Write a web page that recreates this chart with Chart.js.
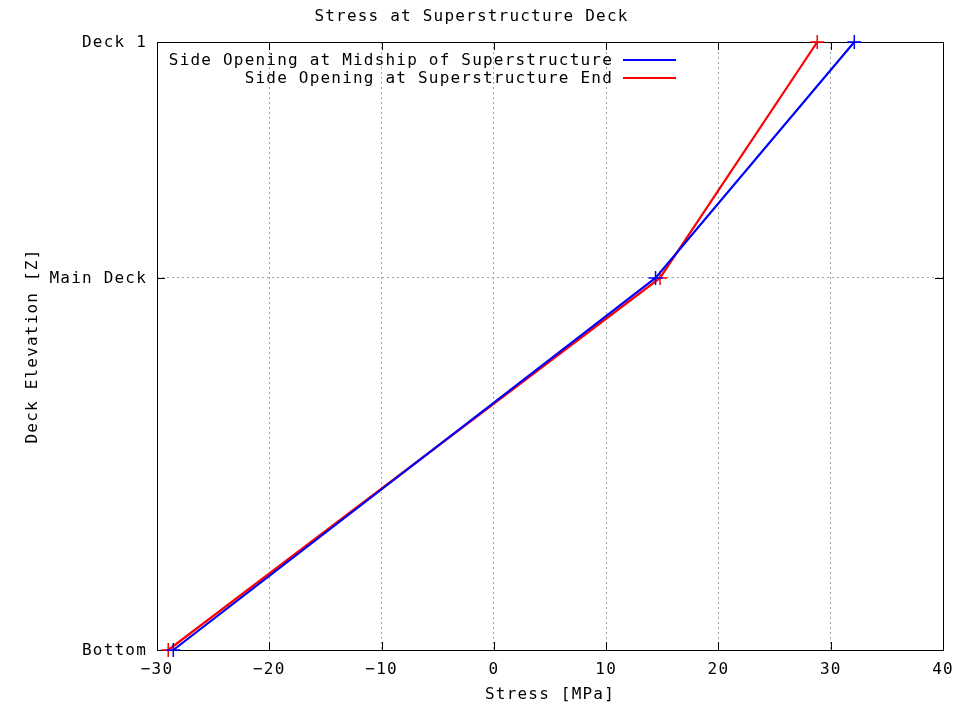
<!DOCTYPE html>
<html>
<head>
<meta charset="utf-8">
<title>Stress at Superstructure Deck</title>
<script src="https://cdn.jsdelivr.net/npm/chart.js@4.4.1/dist/chart.umd.min.js"></script>
<style>
  html, body { margin: 0; padding: 0; background: #fff; }
  #wrap { width: 968px; height: 704px; }
</style>
</head>
<body>
<div id="wrap"><canvas id="chart" width="968" height="704"></canvas></div>
<script>
// deck levels (elevation Z) and their names
const deckNames = ["Bottom", "Main Deck", "Deck 1"];
const deckZ = [0, 15.3, 25];

// stress at each deck [MPa]
const midshipStress = [-28.55, 14.4, 32.1];
const endStress = [-29.0, 14.8, 28.8];

const stressTicks = [-30, -20, -10, 0, 10, 20, 30, 40];

const FONT = { family: "'DejaVu Sans Mono', 'Liberation Mono', monospace", size: 16 };

const toPoints = (xs) => xs.map((x, i) => ({ x: x, y: deckZ[i] }));

// no grid line on the frame itself
const gridColor = (ctx) => {
  const v = ctx.tick ? ctx.tick.value : null;
  if (v === -30 || v === 40 || v === 0 && ctx.scale.axis === "y" || v === 25) return "rgba(0,0,0,0)";
  return "#a0a0a0";
};

// gnuplot style: black frame with inward ticks on all four sides
const framePlugin = {
  id: "frame",
  beforeDraw(chart) {
    chart.ctx.letterSpacing = "1.2px";
  },
  beforeDatasetsDraw(chart) {
    const { ctx, chartArea: a, scales } = chart;
    ctx.save();
    ctx.strokeStyle = "#000";
    ctx.lineWidth = 1;
    ctx.strokeRect(a.left + 0.5, a.top + 0.5, a.right - a.left, a.bottom - a.top);
    ctx.beginPath();
    stressTicks.forEach((v) => {
      const x = Math.round(scales.x.getPixelForValue(v)) + 0.5;
      ctx.moveTo(x, a.bottom); ctx.lineTo(x, a.bottom - 8);
      ctx.moveTo(x, a.top); ctx.lineTo(x, a.top + 8);
    });
    deckZ.forEach((z) => {
      const y = Math.round(scales.y.getPixelForValue(z)) + 0.5;
      ctx.moveTo(a.left, y); ctx.lineTo(a.left + 8, y);
      ctx.moveTo(a.right, y); ctx.lineTo(a.right - 8, y);
    });
    ctx.stroke();
    ctx.restore();
  },
  afterDraw(chart) {
    // key in the top-left corner: text right-aligned, line sample after it
    const { ctx } = chart;
    ctx.save();
    ctx.font = FONT.size + "px " + FONT.family;
    ctx.fillStyle = "#000";
    ctx.textAlign = "right";
    ctx.textBaseline = "middle";
    chart.data.datasets.forEach((ds, i) => {
      const y = 60 + i * 18;
      ctx.fillText(ds.label, 613, y + 1);
      ctx.strokeStyle = ds.borderColor;
      ctx.lineWidth = 2;
      ctx.beginPath();
      ctx.moveTo(623, y);
      ctx.lineTo(676, y);
      ctx.stroke();
    });
    ctx.restore();
  }
};

new Chart(document.getElementById("chart"), {
  type: "line",
  data: {
    datasets: [
      {
        label: "Side Opening at Midship of Superstructure",
        data: toPoints(midshipStress),
        borderColor: "#0000ff",
        backgroundColor: "#0000ff",
      },
      {
        label: "Side Opening at Superstructure End",
        data: toPoints(endStress),
        borderColor: "#ff0000",
        backgroundColor: "#ff0000",
      },
    ],
  },
  options: {
    responsive: false,
    animation: false,
    clip: false,
    layout: { padding: { top: 0, right: 25, bottom: 0, left: 0 } },
    elements: {
      line: { borderWidth: 2.2, tension: 0, fill: false },
      point: { pointStyle: "cross", radius: 7, borderWidth: 1.5 },
    },
    scales: {
      x: {
        type: "linear",
        min: -30,
        max: 40,
        afterBuildTicks: (s) => { s.ticks = stressTicks.map((v) => ({ value: v })); },
        afterFit: (s) => { s.height = 54; },
        ticks: {
          font: FONT,
          color: "#000",
          padding: 10,
          maxRotation: 0,
          callback: (v) => String(v).replace("-", "\u2212"),
        },
        grid: { color: gridColor, drawTicks: false, lineWidth: 1 },
        border: { display: false, dash: [2, 3] },
        title: {
          display: true,
          text: "Stress [MPa]",
          font: FONT,
          color: "#000",
          padding: { top: 0, bottom: 0 },
        },
      },
      y: {
        type: "linear",
        min: 0,
        max: 25,
        afterBuildTicks: (s) => { s.ticks = deckZ.map((v) => ({ value: v })); },
        afterFit: (s) => { s.width = 157; },
        ticks: {
          font: FONT,
          color: "#000",
          padding: 10,
          labelOffset: 1,
          callback: (v) => deckNames[deckZ.indexOf(v)],
        },
        grid: { color: gridColor, drawTicks: false, lineWidth: 1 },
        border: { display: false, dash: [2, 3] },
        title: {
          display: true,
          text: "Deck Elevation [Z]",
          font: FONT,
          color: "#000",
          padding: { top: 23, bottom: 0 },
        },
      },
    },
    plugins: {
      legend: { display: false },
      tooltip: { enabled: false },
      title: {
        display: true,
        text: "Stress at Superstructure Deck",
        font: { family: FONT.family, size: 16, weight: "normal" },
        color: "#000",
        padding: { top: 7, bottom: 15.8 },
      },
    },
  },
  plugins: [framePlugin],
});
</script>
</body>
</html>
